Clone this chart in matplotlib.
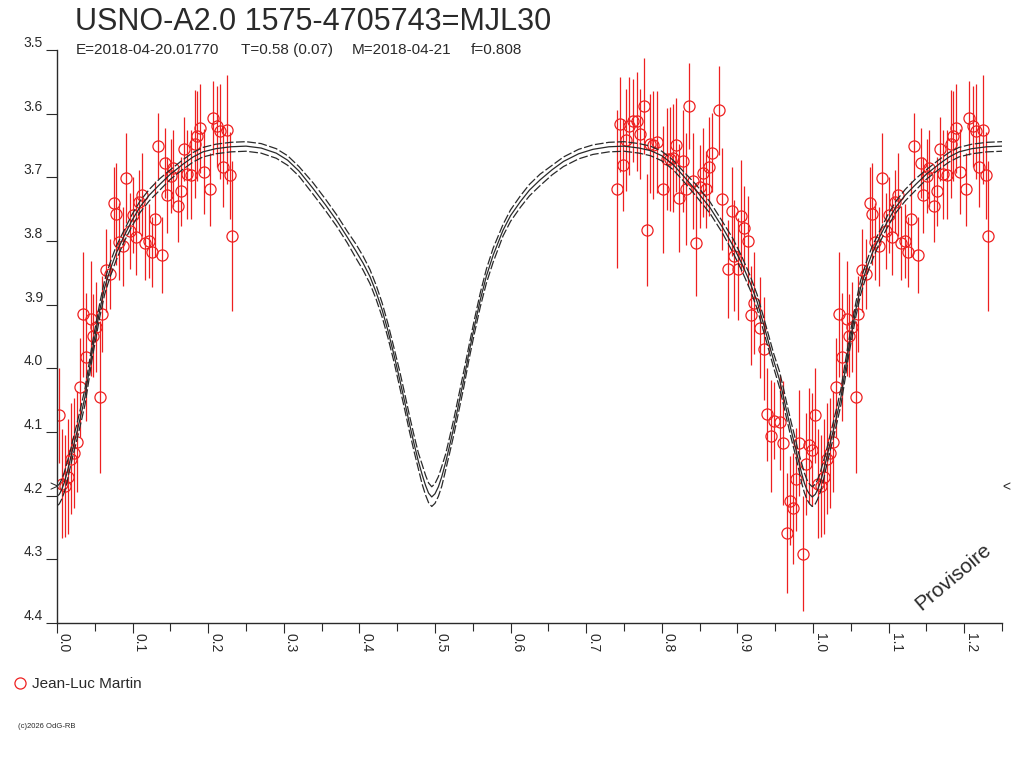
import matplotlib
matplotlib.use('Agg')
import matplotlib.pyplot as plt
from matplotlib.lines import Line2D
import numpy as np

plt.rcParams['font.family'] = ['Liberation Sans', 'DejaVu Sans']

# ---- model light curve (phase 0..1) ----
curve_phase = [0.000, 0.003, 0.006, 0.0095, 0.013, 0.017, 0.0215, 0.027, 0.0325, 0.037,
               0.042, 0.047, 0.052, 0.057, 0.063, 0.070, 0.078, 0.088, 0.099, 0.110,
               0.122, 0.136, 0.150, 0.167, 0.180, 0.193, 0.210, 0.230, 0.250, 0.270,
               0.290, 0.305, 0.320, 0.339, 0.355, 0.370, 0.384, 0.395, 0.405, 0.414,
               0.422, 0.430, 0.438, 0.446, 0.453, 0.460, 0.466, 0.472, 0.478, 0.483,
               0.4875, 0.4915, 0.4957, 0.500, 0.5045, 0.509, 0.514, 0.519, 0.525, 0.531,
               0.538, 0.545, 0.552, 0.560, 0.568, 0.577, 0.590, 0.600, 0.613, 0.625,
               0.639, 0.655, 0.670, 0.690, 0.709, 0.730, 0.750, 0.770, 0.785, 0.800,
               0.815, 0.828, 0.845, 0.864, 0.880, 0.894, 0.906, 0.917, 0.926, 0.934,
               0.941, 0.948, 0.9557, 0.961, 0.9655, 0.971, 0.9765, 0.981, 0.985, 0.9885,
               0.992, 0.9955, 0.999]
curve_mid = [4.201, 4.198, 4.191, 4.180, 4.165, 4.146, 4.123, 4.097, 4.069, 4.045,
             4.008, 3.970, 3.938, 3.906, 3.873, 3.846, 3.820, 3.794, 3.768, 3.746,
             3.728, 3.711, 3.695, 3.679, 3.668, 3.660, 3.655, 3.652, 3.651, 3.654,
             3.662, 3.673, 3.690, 3.718, 3.743, 3.768, 3.794, 3.815, 3.835, 3.856,
             3.880, 3.908, 3.942, 3.980, 4.016, 4.053, 4.086, 4.117, 4.146, 4.167,
             4.184, 4.196, 4.202, 4.197, 4.186, 4.170, 4.148, 4.123, 4.092, 4.058,
             4.018, 3.975, 3.935, 3.892, 3.855, 3.822, 3.783, 3.760, 3.738, 3.720,
             3.704, 3.688, 3.675, 3.663, 3.656, 3.652, 3.651, 3.654, 3.658, 3.666,
             3.680, 3.697, 3.720, 3.748, 3.778, 3.807, 3.836, 3.866, 3.895, 3.928,
             3.958, 3.988, 4.018, 4.045, 4.069, 4.097, 4.123, 4.146, 4.165, 4.180,
             4.191, 4.198, 4.202]
curve_upper = [4.185, 4.182, 4.175, 4.164, 4.149, 4.133, 4.110, 4.084, 4.056, 4.032,
               3.995, 3.959, 3.927, 3.895, 3.862, 3.835, 3.809, 3.785, 3.759, 3.737,
               3.719, 3.702, 3.688, 3.672, 3.661, 3.653, 3.648, 3.645, 3.644, 3.647,
               3.655, 3.666, 3.683, 3.709, 3.734, 3.759, 3.785, 3.804, 3.824, 3.845,
               3.869, 3.897, 3.931, 3.969, 4.003, 4.040, 4.073, 4.104, 4.133, 4.151,
               4.168, 4.180, 4.186, 4.181, 4.170, 4.154, 4.135, 4.110, 4.079, 4.045,
               4.005, 3.964, 3.924, 3.881, 3.844, 3.811, 3.774, 3.751, 3.729, 3.711,
               3.695, 3.681, 3.668, 3.656, 3.649, 3.645, 3.644, 3.647, 3.651, 3.659,
               3.673, 3.690, 3.711, 3.739, 3.769, 3.796, 3.825, 3.855, 3.884, 3.917,
               3.947, 3.977, 4.005, 4.032, 4.056, 4.084, 4.110, 4.133, 4.149, 4.164,
               4.175, 4.182, 4.186]
curve_lower = [4.216, 4.213, 4.206, 4.195, 4.180, 4.158, 4.135, 4.109, 4.081, 4.057,
               4.020, 3.981, 3.949, 3.917, 3.884, 3.857, 3.831, 3.803, 3.777, 3.755,
               3.737, 3.720, 3.703, 3.687, 3.676, 3.668, 3.663, 3.660, 3.659, 3.662,
               3.670, 3.681, 3.698, 3.727, 3.752, 3.777, 3.803, 3.826, 3.846, 3.867,
               3.891, 3.919, 3.953, 3.991, 4.028, 4.065, 4.098, 4.129, 4.158, 4.182,
               4.199, 4.211, 4.217, 4.212, 4.201, 4.185, 4.160, 4.135, 4.104, 4.070,
               4.030, 3.986, 3.946, 3.903, 3.866, 3.833, 3.792, 3.769, 3.747, 3.729,
               3.713, 3.696, 3.683, 3.671, 3.664, 3.660, 3.659, 3.662, 3.666, 3.674,
               3.688, 3.705, 3.729, 3.757, 3.787, 3.818, 3.847, 3.877, 3.906, 3.939,
               3.969, 3.999, 4.030, 4.057, 4.081, 4.109, 4.135, 4.158, 4.180, 4.195,
               4.206, 4.213, 4.217]

# ---- observations (phase, magnitude, error) ----
obs_phase = [0.002, 0.006, 0.010, 0.014, 0.018, 0.022, 0.027, 0.030, 0.035, 0.039,
             0.045, 0.048, 0.052, 0.057, 0.060, 0.065, 0.070, 0.075, 0.078, 0.082,
             0.087, 0.091, 0.097, 0.101, 0.105, 0.109, 0.112, 0.116, 0.122, 0.125,
             0.129, 0.134, 0.139, 0.143, 0.146, 0.151, 0.154, 0.160, 0.164, 0.168,
             0.172, 0.177, 0.183, 0.185, 0.189, 0.194, 0.202, 0.207, 0.211, 0.215,
             0.220, 0.225, 0.229, 0.232,
             0.7405, 0.745, 0.749, 0.753, 0.757, 0.762, 0.767, 0.771, 0.776, 0.780,
             0.785, 0.789, 0.793, 0.801, 0.807, 0.811, 0.815, 0.819, 0.823, 0.828,
             0.832, 0.836, 0.841, 0.845, 0.851, 0.854, 0.859, 0.863, 0.867, 0.875,
             0.879, 0.887, 0.893, 0.896, 0.901, 0.905, 0.909, 0.914, 0.918, 0.922,
             0.930, 0.935, 0.939, 0.944, 0.948, 0.957, 0.960, 0.965, 0.969, 0.973,
             0.978, 0.982, 0.987, 0.991, 0.995, 0.999]
obs_mag = [4.074, 4.181, 4.185, 4.170, 4.142, 4.133, 4.115, 4.030, 3.915, 3.982,
           3.922, 3.949, 3.935, 4.045, 3.915, 3.846, 3.852, 3.741, 3.757, 3.801,
           3.808, 3.701, 3.784, 3.759, 3.793, 3.738, 3.727, 3.803, 3.800, 3.818,
           3.765, 3.651, 3.822, 3.677, 3.728, 3.698, 3.686, 3.745, 3.722, 3.656,
           3.695, 3.696, 3.648, 3.635, 3.623, 3.691, 3.719, 3.607, 3.620, 3.628,
           3.683, 3.625, 3.697, 3.792,
           3.718, 3.617, 3.681, 3.642, 3.620, 3.611, 3.612, 3.632, 3.588, 3.783,
           3.647, 3.649, 3.645, 3.719, 3.671, 3.671, 3.670, 3.649, 3.732, 3.674,
           3.719, 3.588, 3.706, 3.803, 3.715, 3.693, 3.719, 3.683, 3.661, 3.595,
           3.734, 3.844, 3.753, 3.823, 3.844, 3.760, 3.779, 3.800, 3.917, 3.897,
           3.936, 3.969, 4.072, 4.107, 4.082, 4.085, 4.117, 4.259, 4.208, 4.220,
           4.174, 4.117, 4.291, 4.150, 4.121, 4.128]
obs_err = [0.074, 0.085, 0.080, 0.090, 0.087, 0.086, 0.080, 0.078, 0.098, 0.100,
           0.090, 0.065, 0.070, 0.120, 0.060, 0.065, 0.055, 0.058, 0.080, 0.060,
           0.062, 0.070, 0.060, 0.060, 0.060, 0.050, 0.065, 0.058, 0.058, 0.055,
           0.060, 0.052, 0.060, 0.055, 0.060, 0.058, 0.060, 0.056, 0.054, 0.050,
           0.070, 0.070, 0.085, 0.070, 0.070, 0.067, 0.058, 0.058, 0.063, 0.075,
           0.063, 0.085, 0.068, 0.118,
           0.124, 0.075, 0.072, 0.080, 0.077, 0.065, 0.078, 0.071, 0.075, 0.088,
           0.078, 0.085, 0.080, 0.100, 0.080, 0.082, 0.085, 0.074, 0.085, 0.080,
           0.088, 0.068, 0.075, 0.084, 0.065, 0.070, 0.060, 0.077, 0.062, 0.070,
           0.080, 0.077, 0.070, 0.087, 0.080, 0.088, 0.065, 0.071, 0.077, 0.080,
           0.079, 0.081, 0.073, 0.088, 0.060, 0.074, 0.097, 0.094, 0.070, 0.087,
           0.081, 0.083, 0.090, 0.080, 0.090, 0.089]

y_ticks = [3.5, 3.6, 3.7, 3.8, 3.9, 4.0, 4.1, 4.2, 4.3, 4.4]
x_ticks = [0.0, 0.1, 0.2, 0.3, 0.4, 0.5, 0.6, 0.7, 0.8, 0.9, 1.0, 1.1, 1.2]
x_minor = [0.05, 0.15, 0.25, 0.35, 0.45, 0.55, 0.65, 0.75, 0.85, 0.95, 1.05, 1.15, 1.25]

title = "USNO-A2.0 1575-4705743=MJL30"
sub_parts = ["E=2018-04-20.01770", "T=0.58 (0.07)", "M=2018-04-21", "f=0.808"]
sub_x = [76, 241, 352, 471]
observer = "Jean-Luc Martin"

RED = '#ee2020'
DARK = '#2a2a2a'
W, H = 1024, 768

fig = plt.figure(figsize=(10.24, 7.68), dpi=100)
ax = fig.add_axes([57 / W, (H - 623) / H, (1002 - 57) / W, (623 - 50) / H])
ax.set_xlim(0, 1.25)
ax.set_ylim(4.4, 3.5)

for s in ['top', 'right']:
    ax.spines[s].set_visible(False)
for s in ['left', 'bottom']:
    ax.spines[s].set_color(DARK)
    ax.spines[s].set_linewidth(1.0)

# model curves, repeated after phase 1
cp = np.array(curve_phase)
for arr, ls in [(curve_upper, (0, (7, 2))), (curve_mid, '-'), (curve_lower, (0, (7, 2)))]:
    a = np.array(arr)
    ax.plot(np.concatenate([cp, cp + 1]), np.concatenate([a, a]),
            color=DARK, lw=0.9, ls=ls, zorder=3)

# observations, those before phase 0.25 repeated after phase 1
op = np.array(obs_phase)
om = np.array(obs_mag)
oe = np.array(obs_err)
m = op < 0.25
xs = np.concatenate([op, op[m] + 1])
ys = np.concatenate([om, om[m]])
es = np.concatenate([oe, oe[m]])
ax.errorbar(xs, ys, yerr=es, fmt='none', ecolor=RED, elinewidth=0.9, capsize=0, zorder=2)
ax.plot(xs, ys, 'o', mfc='none', mec=RED, ms=8, mew=0.9, zorder=2.5)

# ticks
ax.set_yticks(y_ticks, labels=[f"{v:.1f}" for v in y_ticks], va='bottom')
ax.set_xticks(x_ticks, labels=[f"{v:.1f}" for v in x_ticks], rotation=270,
              ha='left', va='top')
ax.set_xticks(x_minor, minor=True)
ax.tick_params(axis='y', direction='out', length=8, width=0.8, pad=2,
               labelsize=10, colors=DARK)
ax.tick_params(axis='x', which='major', direction='out', length=7.2, width=0.8,
               pad=0, labelsize=10, colors=DARK)
ax.tick_params(axis='x', which='minor', direction='out', length=6, width=0.8,
               colors=DARK)

# texts
fig.text(75 / W, 1 - 30 / H, title, fontsize=22, color=DARK, va='baseline', ha='left')
for t, x in zip(sub_parts, sub_x):
    fig.text(x / W, 1 - 54 / H, t, fontsize=11, color=DARK, va='baseline', ha='left')

fig.text(53 / W, 1 - 487 / H, '>', fontsize=10, color=DARK, ha='center', va='center')
fig.text(1006 / W, 1 - 487 / H, '<', fontsize=10, color=DARK, ha='center', va='center')

fig.text(953 / W, 1 - 577 / H, 'Provisoire', fontsize=15, color=DARK,
         rotation=40, ha='center', va='center', rotation_mode='anchor')

fig.add_artist(Line2D([20 / W], [1 - 683 / H], marker='o', mfc='none', mec=RED,
                      ms=8, mew=0.9, transform=fig.transFigure))
fig.text(32 / W, 1 - 688 / H, observer, fontsize=11, color=DARK, va='baseline', ha='left')
fig.text(18 / W, 1 - 728 / H, '(c)2026 OdG-RB', fontsize=5.5, color=DARK,
         va='baseline', ha='left')

fig.savefig('out.png', dpi=100)
